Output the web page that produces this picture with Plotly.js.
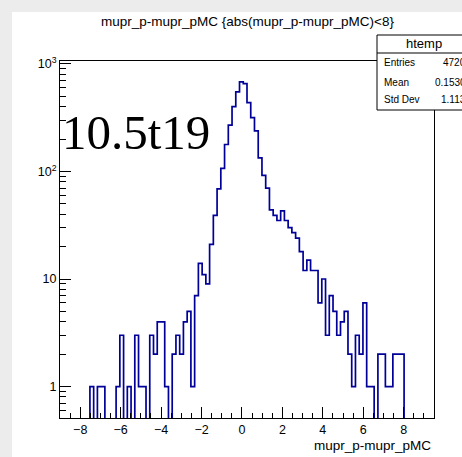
<!DOCTYPE html>
<html><head><meta charset="utf-8">
<script src="https://cdn.plot.ly/plotly-3.0.1.min.js"></script>
<style>
html,body{margin:0;padding:0;background:#ececec;overflow:hidden;width:462px;height:457px}
#plot{position:absolute;left:12px;top:12px;width:468px;height:445px;}
</style>
</head><body><div id="plot"></div>
<script>
// Histogram definition (ROOT htemp): 100 bins from -9 to 9.5
const binLow = -9, binHigh = 9.5, nBins = 100;
const counts = [
  0,0,0,0,0,0,0,0,1,0,
  1,1,0,0,0,1,3,0,1,0,
  3,1,1,0,3,2,4,4,1,0,
  2,3,2,4,5,1,7,14,11,9,
  21,39,69,107,178,270,400,550,680,656,
  437,317,238,134,92,70,44,39,35,43,
  35,30,27,24,18,12,15,12,12,6,
  10,3,7,5,3,4,5,2,1,3,
  2,6,1,1,0,2,2,1,1,2,
  2,2,0,0,0,0,0,0,0,0
];
const titleText = "mupr_p-mupr_pMC {abs(mupr_p-mupr_pMC)<8}";
const xTitle = "mupr_p-mupr_pMC";
const statsName = "htemp";
const statsLabels = ["Entries", "Mean", "Std Dev"];
const statsValues = ["4720", "0.1530", "1.113"];
const overlayText = "10.5t19";
const xTickVals = [-8,-6,-4,-2,0,2,4,6,8];
const yTickVals = [1,10,100,1000];
const yTickText = ["1","10","10<sup>2</sup>","10<sup>3</sup>"];

// step outline built from bin edges
const bw = (binHigh - binLow) / nBins;
const xs = [], ys = [];
for (let i = 0; i < nBins; i++) { xs.push(binLow + i*bw); ys.push(counts[i] > 0 ? counts[i] : 1e-3); }
xs.push(binHigh); ys.push(ys[ys.length-1]);

// minor ticks
const xMinor = []; for (let v = -9; v <= 9.5001; v += 0.5) xMinor.push(+v.toFixed(2));
const yMinor = []; for (const d of [0.1,1,10,100]) for (let k = 2; k <= 9; k++) yMinor.push(+(k*d).toFixed(3));

// page-pixel helpers (plot frame on page: x 60..434, y 61..418)
const FX0 = 60, FX1 = 434, FY0 = 61, FY1 = 418;
const px = p => (p - FX0) / (FX1 - FX0);
const py = p => (FY1 - p) / (FY1 - FY0);

const font = "Liberation Sans, Arial, sans-serif";
const ann = [];
ann.push({xref:'paper',yref:'paper',x:px(247),y:py(22),text:titleText,showarrow:false,
  xanchor:'center',yanchor:'middle',font:{family:font,size:13.5,color:'#000'}});
ann.push({xref:'paper',yref:'paper',x:px(433),y:py(445),text:xTitle,showarrow:false,
  xanchor:'right',yanchor:'middle',font:{family:font,size:13.5,color:'#000'}});
ann.push({xref:'paper',yref:'paper',x:px(424),y:py(44),text:statsName,showarrow:false,
  xanchor:'center',yanchor:'middle',font:{family:font,size:13,color:'#000'}});
const rowsY = [63,82,100];
statsLabels.forEach((l,i)=>{
  ann.push({xref:'paper',yref:'paper',x:px(382),y:py(rowsY[i]),text:l,showarrow:false,
    xanchor:'left',yanchor:'middle',font:{family:font,size:10,color:'#000'}});
  ann.push({xref:'paper',yref:'paper',x:px(468),y:py(rowsY[i]),text:statsValues[i],showarrow:false,
    xanchor:'right',yanchor:'middle',font:{family:font,size:10,color:'#000'}});
});
ann.push({xref:'paper',yref:'paper',x:px(60),y:py(133),text:overlayText,showarrow:false,
  xanchor:'left',yanchor:'middle',font:{family:'Liberation Serif, Times New Roman, serif',size:49,color:'#000'}});

const shapes = [
  {type:'rect',xref:'paper',yref:'paper',x0:px(377),x1:px(471),y0:py(110),y1:py(35),
   line:{color:'#000',width:1},fillcolor:'#fff',layer:'above'},
  {type:'line',xref:'paper',yref:'paper',x0:px(377),x1:px(471),y0:py(53),y1:py(53),
   line:{color:'#000',width:1},layer:'above'}
];

const trace = {x:xs, y:ys, type:'scatter', mode:'lines', line:{shape:'hv', color:'#000099', width:1.7},
  hoverinfo:'skip', showlegend:false};

const layout = {
  width:468, height:445,
  margin:{l:48, r:46, t:49, b:39, pad:0},
  paper_bgcolor:'#fff', plot_bgcolor:'#fff',
  showlegend:false,
  xaxis:{range:[binLow, binHigh], showgrid:false, zeroline:false, showline:true, mirror:true,
    linecolor:'#000', linewidth:1, ticks:'inside', ticklen:11, tickcolor:'#000', tickwidth:1,
    tickmode:'array', tickvals:xTickVals, tickfont:{family:font,size:12.5,color:'#000'},
    minor:{tickmode:'array', tickvals:xMinor, ticks:'inside', ticklen:5, tickcolor:'#000', tickwidth:1}},
  yaxis:{type:'log', range:[Math.log10(0.51), Math.log10(1064)], showgrid:false, zeroline:false,
    showline:true, mirror:true, linecolor:'#000', linewidth:1, ticks:'inside', ticklen:11,
    tickcolor:'#000', tickwidth:1, tickmode:'array', tickvals:yTickVals, ticktext:yTickText,
    tickfont:{family:font,size:12.5,color:'#000'},
    minor:{tickmode:'array', tickvals:yMinor, ticks:'inside', ticklen:6, tickcolor:'#000', tickwidth:1}},
  annotations:ann, shapes:shapes
};
Plotly.newPlot('plot', [trace], layout, {staticPlot:true, displayModeBar:false});
</script>
</body></html>
